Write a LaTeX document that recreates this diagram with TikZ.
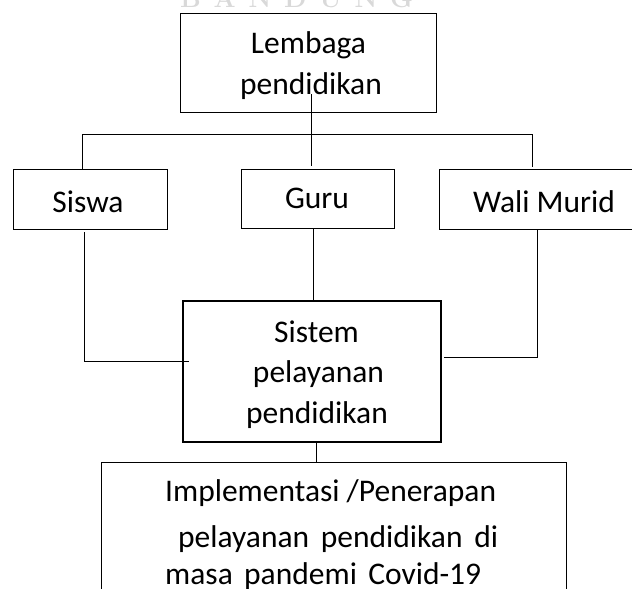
\documentclass[tikz,border=0pt]{standalone}
\usepackage{fontspec}
\setmainfont{Carlito}
\newfontfamily\wmfont{Latin Modern Roman}
\begin{document}
\begin{tikzpicture}[x=1pt,y=-1pt,
  box/.style={draw=black,line width=0.9pt,inner sep=0pt,anchor=north west},
  thickbox/.style={box,line width=1.7pt},
  txt/.style={inner sep=0pt,anchor=base,font=\fontsize{31.5}{40}\selectfont},
  txtl/.style={txt,anchor=base west},
  conn/.style={draw=black,line width=0.9pt}]
\clip (0,0) rectangle (632,589);
\fill[white] (0,0) rectangle (632,589);
% watermark
\node[inner sep=0pt,anchor=base west,text=black!15,font=\wmfont\bfseries\fontsize{26}{28}\selectfont] (wm) at (180,8) {\makebox[233pt][s]{B A N D U N G}};
% boxes
\node[box,minimum width=256pt,minimum height=99pt] (lembaga) at (180,13) {};
\node[box,minimum width=154pt,minimum height=60pt] (siswa) at (13,169) {};
\node[box,minimum width=153pt,minimum height=59pt] (guru) at (241,169) {};
\node[box,minimum width=201pt,minimum height=60pt] (wali) at (439,169) {};
\node[thickbox,minimum width=258pt,minimum height=141pt] (sistem) at (182,300) {};
\node[box,minimum width=465pt,minimum height=160pt] (impl) at (101,462) {};
% texts
\node[txt] (t1) at (308.5,53) {Lembaga};
\node[txt] (t2) at (311,94) {pendidikan};
\node[txt] (t3) at (88,212) {Siswa};
\node[txt] (t4) at (317,208) {Guru};
\node[txt] (t5) at (544,212) {Wali Murid};
\node[txt] (t6) at (316.5,342) {Sistem};
\node[txt] (t7) at (318.5,382) {pelayanan};
\node[txt] (t8) at (317,423) {pendidikan};
\node[txtl] (t9) at (165,501) {Implementasi /Penerapan};
\node[txtl] (t10) at (178,547) {\makebox[320pt][s]{pelayanan pendidikan di}};
\node[txtl] (t11) at (165,584) {\makebox[316pt][s]{masa pandemi Covid-19}};
% connector points
\coordinate (lA) at (311,94);
\coordinate (lB) at (311,166);
\coordinate (hL) at (82,134);
\coordinate (hR) at (532,134);
\coordinate (sL) at (82,169);
\coordinate (wR) at (532,167);
\coordinate (s1) at (84,232);
\coordinate (s2) at (84,361);
\coordinate (s3) at (189,361);
\coordinate (g1) at (313,228);
\coordinate (g2) at (313,300);
\coordinate (w1) at (537,229);
\coordinate (w2) at (537,357);
\coordinate (w3) at (444,357);
\coordinate (i1) at (316,441);
\coordinate (i2) at (316,462);
% connectors
\draw[conn] (lA) -- (lB);
\draw[conn] (sL) -- (hL) -- (hR) -- (wR);
\draw[conn] (s1) -- (s2) -- (s3);
\draw[conn] (g1) -- (g2);
\draw[conn] (w1) -- (w2) -- (w3);
\draw[conn] (i1) -- (i2);
\end{tikzpicture}
\end{document}
